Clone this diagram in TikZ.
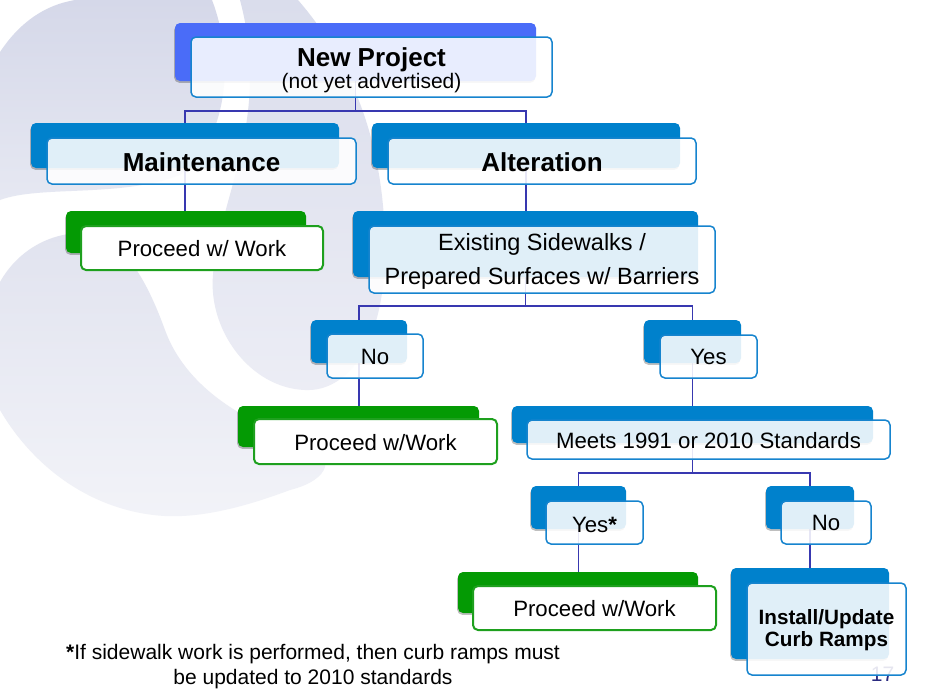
\documentclass[tikz,border=0pt]{standalone}
\usepackage{fontspec}
\setmainfont{Liberation Sans}
\usetikzlibrary{shadows}

\definecolor{npblue}{HTML}{4A6CF8}
\definecolor{bkblue}{HTML}{0081CC}
\definecolor{edgeblue}{HTML}{1684CE}
\definecolor{bkgreen}{HTML}{049A04}
\definecolor{edgegreen}{HTML}{1EA01E}
\definecolor{wireblue}{HTML}{3838B0}
\definecolor{pagenum}{HTML}{2A2A80}
\definecolor{lavA}{HTML}{D5D8E9}
\definecolor{lavB}{HTML}{E6E8F2}
\definecolor{lavC}{HTML}{E1E3EF}
\definecolor{lavD}{HTML}{F2F3F8}
\definecolor{lavE}{HTML}{DADDEC}
\definecolor{lavF}{HTML}{ECEDF5}

% type sizes (1pt = 1 output pixel)
\newcommand\fTitle{\fontsize{26}{30}\selectfont\bfseries}
\newcommand\fSub{\fontsize{21}{24}\selectfont}
\newcommand\fBody{\fontsize{22.2}{26}\selectfont}
\newcommand\fWide{\fontsize{23.5}{28}\selectfont}
\newcommand\fInst{\fontsize{20.7}{24}\selectfont\bfseries}
\newcommand\fNote{\fontsize{21}{24}\selectfont}

% one centred text line whose baseline sits #1 above the node centre
\newcommand\tline[2]{\makebox[0pt]{\raisebox{#1}[0pt][0pt]{#2}}}

\pgfdeclarelayer{logo}
\pgfdeclarelayer{wires}
\pgfsetlayers{logo,wires,main}

\tikzset{
  backbox/.style={rectangle, rounded corners=5pt, inner sep=0pt, outer sep=0pt,
    draw=none, fill=#1,
    drop shadow={shadow xshift=-0.8pt, shadow yshift=-1.8pt, opacity=0.25, fill=black}},
  glass/.style={rectangle, rounded corners=5pt, inner sep=0pt, outer sep=0pt,
    draw=edgeblue, line width=1.5pt, fill=white, fill opacity=0.88,
    text opacity=1, font=\fBody},
  paper/.style={rectangle, rounded corners=5pt, inner sep=0pt, outer sep=0pt,
    draw=edgegreen, line width=2pt, fill=white, font=\fBody},
  wire/.style={draw=wireblue, line width=1.2pt},
  plain/.style={inner sep=0pt, outer sep=0pt},
}

\begin{document}
\begin{tikzpicture}[x=1pt, y=-1pt]
\useasboundingbox (0,0) rectangle (934,694);

% white page and pale logo shapes in the background
\begin{pgfonlayer}{logo}
  \fill[white] (0,0) rectangle (934,694);
  \shade[top color=lavA, bottom color=lavB]
    (0,52) .. controls (20,22) and (45,5) .. (75,0) -- (212,0)
    .. controls (235,60) and (228,140) .. (180,175)
    .. controls (120,198) and (40,185) .. (0,200) -- cycle;
  \shade[top color=lavE, bottom color=lavF]
    (240,0) -- (298,0) .. controls (350,60) and (385,140) .. (385,250)
    .. controls (385,340) and (350,392) .. (305,390)
    .. controls (250,388) and (208,330) .. (213,275)
    .. controls (218,200) and (272,120) .. (240,0) -- cycle;
  \shade[top color=lavC, bottom color=lavD]
    (0,282) .. controls (18,250) and (50,233) .. (82,233)
    .. controls (120,234) and (145,275) .. (165,330)
    .. controls (185,385) and (240,420) .. (300,440)
    .. controls (340,455) and (330,480) .. (290,490)
    .. controls (250,505) and (205,518) .. (165,516)
    .. controls (95,512) and (35,470) .. (0,410) -- cycle;
\end{pgfonlayer}

% level 0
\node[backbox=npblue, minimum width=361pt, minimum height=58pt] (npB) at (355.5,52) {};
\node[glass, minimum width=361pt, minimum height=60pt] (np) at (371.5,67)
  {\tline{1pt}{\fTitle New Project}\tline{-21pt}{\fSub (not yet advertised)}};

% level 1
\node[backbox=bkblue, minimum width=308pt, minimum height=45pt] (mtB) at (185,145.5) {};
\node[glass, minimum width=309pt, minimum height=46pt] (mt) at (201.5,161)
  {\tline{-10pt}{\fTitle Maintenance}};
\node[backbox=bkblue, minimum width=308pt, minimum height=45pt] (alB) at (526,145.5) {};
\node[glass, minimum width=308pt, minimum height=46pt] (al) at (542,161)
  {\tline{-10pt}{\fTitle Alteration}};

% level 2
\node[backbox=bkgreen, minimum width=240pt, minimum height=42pt] (p1B) at (186,232) {};
\node[paper, minimum width=242pt, minimum height=44pt] (p1) at (202,248)
  {\tline{-8pt}{Proceed w/ Work}};
\node[backbox=bkblue, minimum width=345pt, minimum height=66pt] (exB) at (525.5,244) {};
\node[glass, minimum width=346pt, minimum height=67pt] (ex) at (542,259.5)
  {\tline{9pt}{\fWide Existing Sidewalks /}\tline{-24.5pt}{\fWide Prepared Surfaces w/ Barriers}};

% level 3
\node[backbox=bkblue, minimum width=96pt, minimum height=43pt] (noAB) at (359,341.5) {};
\node[glass, minimum width=96pt, minimum height=44pt] (noA) at (375,356)
  {\tline{-8.3pt}{No}};
\node[backbox=bkblue, minimum width=97pt, minimum height=43pt] (yesAB) at (692.5,341.5) {};
\node[glass, minimum width=97pt, minimum height=43pt] (yesA) at (708.5,356.5)
  {\tline{-7.8pt}{Yes}};

% level 4
\node[backbox=bkgreen, minimum width=241pt, minimum height=41pt] (p2B) at (358.5,426.5) {};
\node[paper, minimum width=243pt, minimum height=45pt] (p2) at (375.5,441.5)
  {\tline{-8.5pt}{Proceed w/Work}};
\node[backbox=bkblue, minimum width=361pt, minimum height=37pt] (mtsB) at (692.5,424.5) {};
\node[glass, minimum width=363pt, minimum height=39pt] (mts) at (708.5,439.5)
  {\tline{-8.8pt}{Meets 1991 or 2010 Standards}};

% level 5
\node[backbox=bkblue, minimum width=95pt, minimum height=43pt] (yesBB) at (578.5,507.5) {};
\node[glass, minimum width=97pt, minimum height=43pt] (yesB) at (594.5,522.5)
  {\tline{-10pt}{Yes{\bfseries *}}};
\node[backbox=bkblue, minimum width=88pt, minimum height=43pt] (noBB) at (810,507.5) {};
\node[glass, minimum width=90pt, minimum height=43pt] (noB) at (826,522.5)
  {\tline{-7.5pt}{No}};

% level 6
\node[backbox=bkgreen, minimum width=240pt, minimum height=41pt] (p3B) at (578,592.5) {};
\node[paper, minimum width=243pt, minimum height=44pt] (p3) at (594.5,608)
  {\tline{-8pt}{Proceed w/Work}};
\node[backbox=bkblue, minimum width=158pt, minimum height=91pt] (insB) at (810,613.5) {};
\node[glass, minimum width=159pt, minimum height=92pt] (ins) at (826.5,629)
  {\tline{4.5pt}{\fInst Install/Update}\tline{-17.5pt}{\fInst Curb Ramps}};

% footnote
\node[plain] (note) at (313,659)
  {\fNote\tline{0pt}{\textbf{*}If sidewalk work is performed, then curb ramps must}%
   \tline{-25pt}{be updated to 2010 standards}};

% connectors and page number, beneath the boxes
\begin{pgfonlayer}{wires}
  \coordinate (busA) at (0,111);
  \coordinate (busB) at (0,306);
  \coordinate (busC) at (0,473);
  \draw[wire] (npB.center) -- (npB.center |- busA) -| (mtB.center);
  \draw[wire] (npB.center |- busA) -| (alB.center);
  \draw[wire] (mtB.center) -- (mtB.center |- p1B.center);
  \draw[wire] (alB.center) -- (alB.center |- exB.center);
  \draw[wire] (exB.center) -- (exB.center |- busB) -| (noAB.center);
  \draw[wire] (exB.center |- busB) -| (yesAB.center);
  \draw[wire] (noAB.center) -- (noAB.center |- p2B.center);
  \draw[wire] (yesAB.center) -- (yesAB.center |- mtsB.center);
  \draw[wire] (mtsB.center) -- (mtsB.center |- busC) -| (yesBB.center);
  \draw[wire] (mtsB.center |- busC) -| (noBB.center);
  \draw[wire] (yesBB.center) -- (yesBB.center |- p3B.center);
  \draw[wire] (noBB.center) -- (noBB.center |- insB.center);
  \node[plain, text=pagenum, font=\fNote] (pg) at (882.5,681) {\tline{0pt}{17}};
\end{pgfonlayer}
\end{tikzpicture}
\end{document}
